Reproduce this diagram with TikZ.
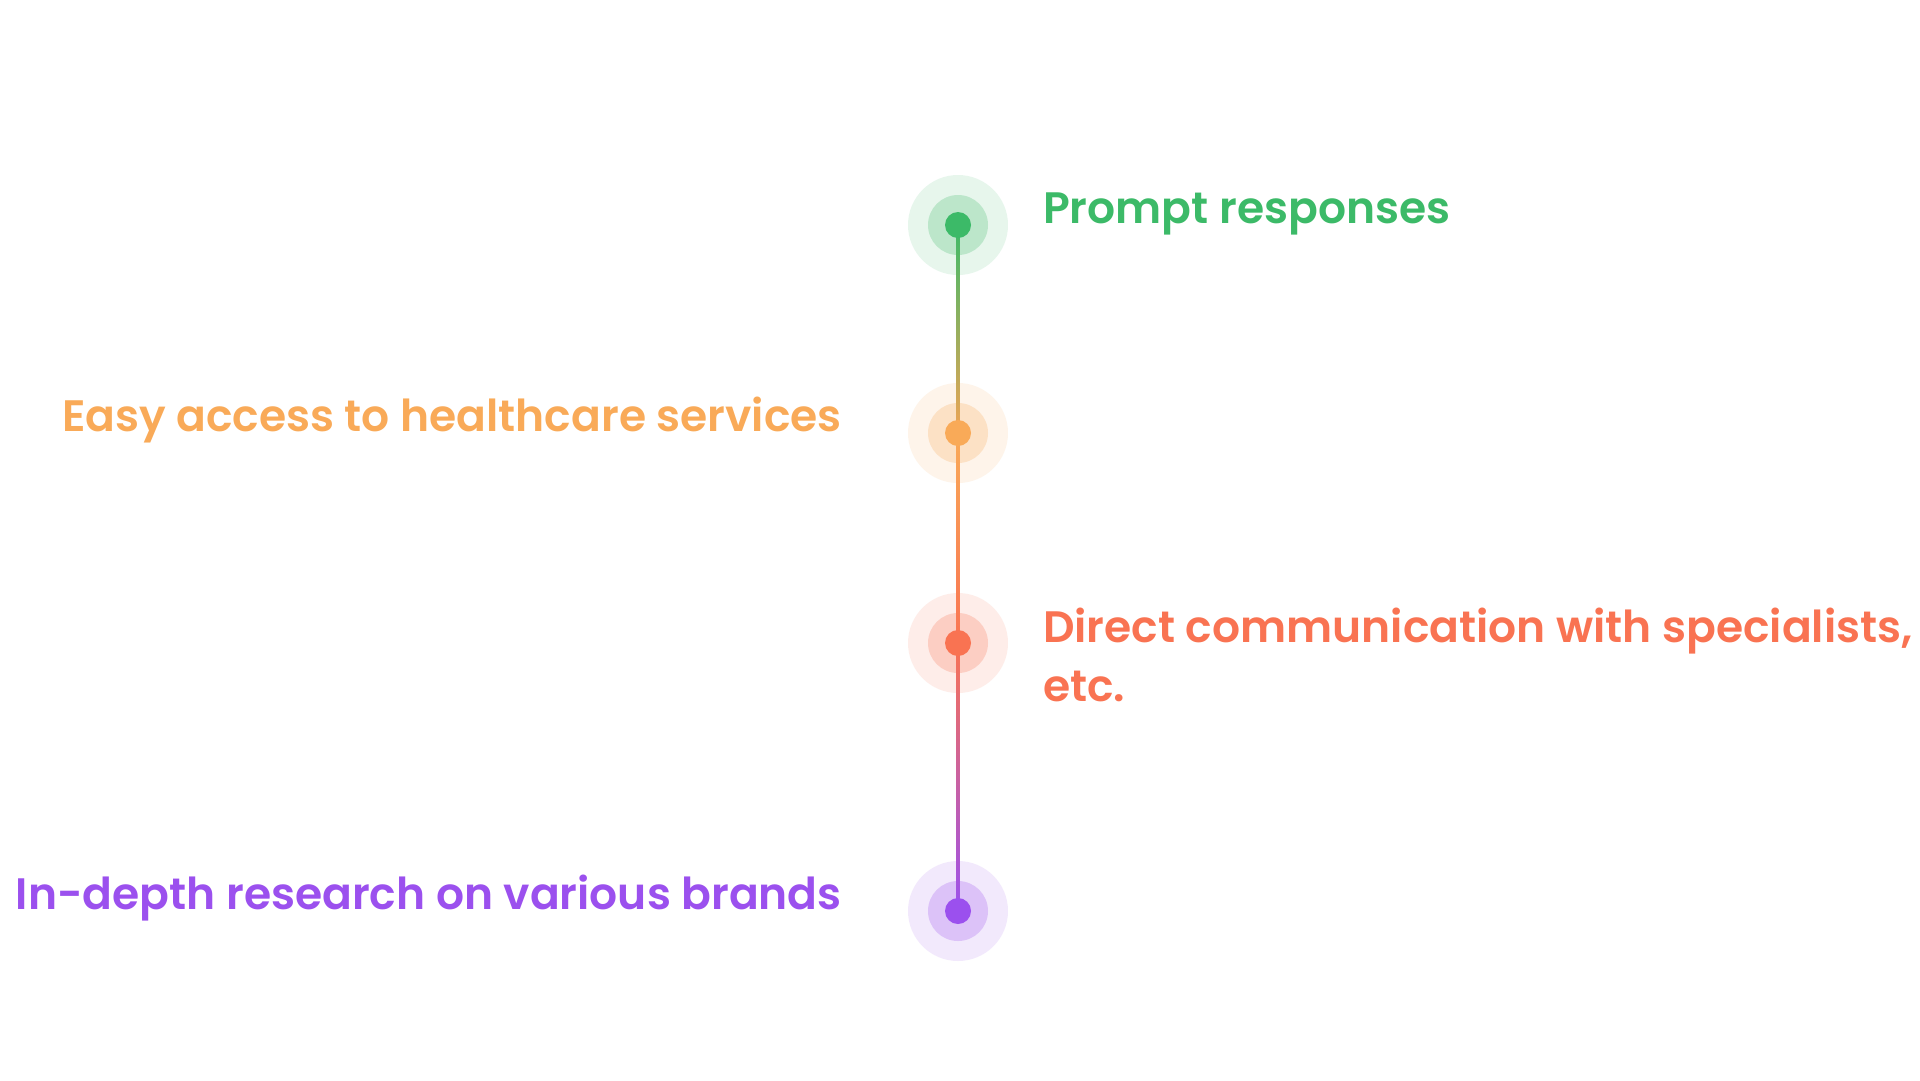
\documentclass[tikz,border=0pt]{standalone}
\usepackage{fontspec}
\setmainfont{Poppins}[BoldFont={* SemiBold}]
\definecolor{cgreen}{HTML}{3CBA68}
\definecolor{corange}{HTML}{F9AA58}
\definecolor{cred}{HTML}{F97352}
\definecolor{cpurple}{HTML}{9B50EE}
\begin{document}
\begin{tikzpicture}[x=1pt,y=-1pt,
  halo/.style={circle,fill=#1,fill opacity=0.12,minimum size=100pt,inner sep=0pt},
  mid/.style={circle,fill=#1,fill opacity=0.25,minimum size=60pt,inner sep=0pt},
  dot/.style={circle,fill=#1,minimum size=26pt,inner sep=0pt},
  lbl/.style={text=#1,font=\fontsize{44}{59}\selectfont\bfseries,inner sep=0pt,align=left}]
\useasboundingbox[fill=white] (0,0) rectangle (1920,1080);
% halos
\foreach \n/\c/\y in {g/cgreen/225,o/corange/433,r/cred/643,p/cpurple/911}{
  \node[halo=\c] (\n h) at (958,\y) {};
  \node[mid=\c] (\n m) at (958,\y) {};
}
% connectors
\shade[top color=cgreen,bottom color=corange!85!brown] ([xshift=-1.5pt]gh.center) rectangle ([xshift=1.5pt]oh.center);
\shade[top color=corange,bottom color=cred] ([xshift=-1.5pt]oh.center) rectangle ([xshift=1.5pt]rh.center);
\shade[top color=cred,bottom color=cpurple] ([xshift=-1.5pt]rh.center) rectangle ([xshift=1.5pt]ph.center);
% dots
\node[dot=cgreen] (g) at (gh.center) {};
\node[dot=corange] (o) at (oh.center) {};
\node[dot=cred] (r) at (rh.center) {};
\node[dot=cpurple] (p) at (ph.center) {};
% labels
\node[lbl=cgreen,anchor=base west] (tg) at (1043,223) {Prompt responses};
\node[lbl=corange,anchor=base east] (to) at (842,431) {Easy access to healthcare services};
\node[lbl=cred,anchor=base west] (tr) at (1043,701) {Direct communication with specialists,\\etc.};
\node[lbl=cpurple,anchor=base east] (tp) at (842,909) {In-depth research on various brands};
\end{tikzpicture}
\end{document}
